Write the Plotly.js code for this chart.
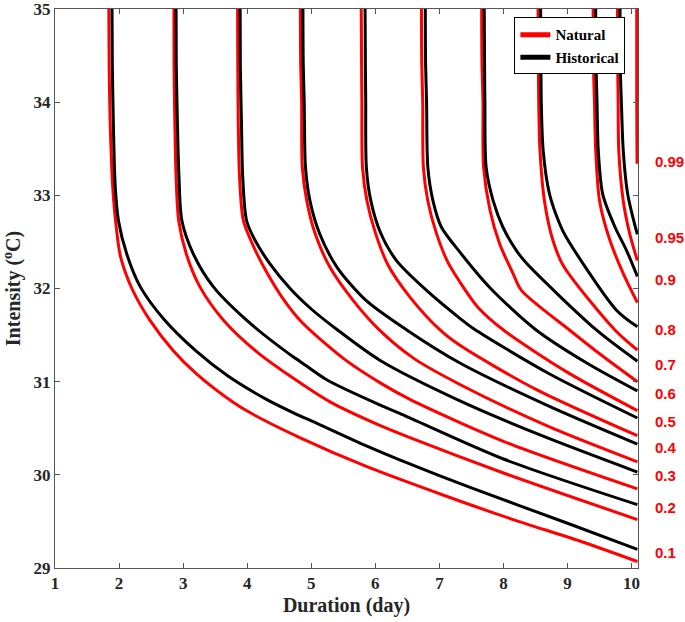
<!DOCTYPE html>
<html>
<head>
<meta charset="utf-8">
<script src="https://cdn.plot.ly/plotly-3.0.1.min.js"></script>
<style>html,body{margin:0;padding:0;background:#fff;}#chart{width:685px;height:622px;}</style>
</head>
<body>
<div id="chart"></div>
<script>
// probability levels (labels on the right)
const levels = ['0.1','0.2','0.3','0.4','0.5','0.6','0.7','0.8','0.9','0.95','0.99'];

// Natural (red) curves: duration (day) vs intensity (°C)
const nat01x = [1.84,1.845,1.86,1.885,1.91,1.95,2.02,2.2,2.48,2.85,3.2,3.78,4.09,4.82,5.86,7.11,8.15,9.19,10.09];
const nat01y = [35,34.4,33.8,33.3,33.0,32.7,32.35,32.0,31.66,31.33,31.09,30.78,30.65,30.40,30.09,29.77,29.52,29.29,29.07];
const nat02x = [2.856,2.858,2.87,2.89,2.93,3.05,3.26,3.63,4.15,4.67,5.3,6.07,6.5,8.0,10.09];
const nat02y = [35,34.4,33.8,33.2,32.73,32.37,32.02,31.66,31.32,31.06,30.78,30.53,30.41,30.02,29.52];
const nat03x = [3.85,3.853,3.86,3.88,3.94,4.1,4.3,4.55,4.85,5.5,6.07,6.54,8.0,10.09];
const nat03y = [35,34.4,33.8,33.2,32.73,32.45,32.18,31.9,31.64,31.25,30.99,30.81,30.36,29.85];
const nat04x = [4.83,4.835,4.85,4.86,4.93,5.06,5.29,5.65,6.07,6.6,7.32,8.7,10.09];
const nat04y = [35,34.4,34.0,33.3,32.94,32.59,32.23,31.875,31.55,31.25,30.97,30.52,30.14];
const nat05x = [5.78,5.785,5.79,5.80,5.87,6.0,6.2,6.55,7.01,7.32,8.5,10.09];
const nat05y = [35,34.4,34.0,33.3,32.94,32.6,32.25,31.9,31.555,31.39,30.92,30.42];
const nat06x = [6.72,6.725,6.74,6.75,6.82,6.95,7.12,7.32,7.6,8.0,9.0,10.09];
const nat06y = [35,34.4,34.0,33.3,32.94,32.6,32.3,32.07,31.8,31.555,31.1,30.69];
const nat07x = [7.66,7.665,7.68,7.69,7.79,7.94,8.15,8.28,9.03,9.5,10.09];
const nat07y = [35,34.4,34.01,33.30,32.84,32.48,32.16,31.98,31.555,31.30,31.00];
const nat08x = [8.54,8.545,8.55,8.57,8.64,8.77,8.93,9.74,10.09];
const nat08y = [35,34.4,34.01,33.48,32.94,32.52,32.25,31.555,31.34];
const nat09x = [9.40,9.405,9.42,9.44,9.50,9.66,9.87,10.09];
const nat09y = [35,34.4,34.01,33.48,32.94,32.52,32.16,31.85];
const nat10x = [9.78,9.783,9.79,9.80,9.87,9.97,10.09];
const nat10y = [35,34.4,34.01,33.48,32.94,32.59,32.30];
const nat11x = [10.08,10.08,10.085];
const nat11y = [35,34.0,33.34];

// Historical (black) curves
const his01x = [1.89,1.895,1.91,1.94,1.99,2.12,2.33,2.7,3.2,3.7,4.3,4.77,5.03,5.86,6.38,7.5,9.0,10.09];
const his01y = [35,34.4,33.8,33.1,32.73,32.37,32.02,31.67,31.33,31.06,30.81,30.65,30.57,30.31,30.16,29.86,29.48,29.20];
const his02x = [2.89,2.893,2.91,2.935,2.98,3.16,3.47,3.99,4.67,4.82,5.24,6.07,6.38,8.0,10.09];
const his02y = [35,34.4,33.8,33.2,32.73,32.37,32.02,31.66,31.29,31.22,31.02,30.75,30.66,30.17,29.68];
const his03x = [3.89,3.893,3.91,3.93,3.99,4.12,4.35,4.67,5.0,5.4,6.07,7.27,8.6,10.09];
const his03y = [35,34.4,33.8,33.2,32.73,32.52,32.27,32.0,31.78,31.56,31.23,30.81,30.42,30.03];
const his04x = [4.87,4.875,4.89,4.91,4.98,5.13,5.40,5.85,6.49,7.32,8.7,10.09];
const his04y = [35,34.4,34.0,33.3,32.94,32.59,32.23,31.875,31.555,31.20,30.74,30.33];
const his05x = [5.84,5.845,5.85,5.86,5.93,6.08,6.33,6.8,7.32,7.53,8.7,10.09];
const his05y = [35,34.4,34.0,33.3,32.94,32.6,32.3,31.98,31.68,31.57,31.09,30.61];
const his06x = [6.78,6.785,6.80,6.82,6.9,7.03,7.32,7.8,8.51,9.3,10.09];
const his06y = [35,34.4,34.0,33.3,32.94,32.66,32.39,32.0,31.555,31.2,30.90];
const his07x = [7.70,7.705,7.71,7.73,7.84,7.99,8.20,8.36,9.45,10.09];
const his07y = [35,34.4,34.01,33.30,32.94,32.66,32.41,32.27,31.555,31.22];
const his08x = [8.58,8.585,8.59,8.62,8.72,8.88,8.98,9.76,10.09];
const his08y = [35,34.4,34.01,33.48,33.01,32.69,32.55,31.77,31.59];
const his09x = [9.44,9.445,9.46,9.48,9.55,9.74,9.92,10.09];
const his09y = [35,34.4,34.01,33.48,33.01,32.66,32.41,32.13];
const his10x = [9.82,9.823,9.84,9.87,9.94,10.09];
const his10y = [35,34.4,34.01,33.48,33.01,32.58];

const xTicks = [1,2,3,4,5,6,7,8,9,10];
const yTicks = [29,30,31,32,33,34,35];

const natX = [nat01x,nat02x,nat03x,nat04x,nat05x,nat06x,nat07x,nat08x,nat09x,nat10x,nat11x];
const natY = [nat01y,nat02y,nat03y,nat04y,nat05y,nat06y,nat07y,nat08y,nat09y,nat10y,nat11y];
const hisX = [his01x,his02x,his03x,his04x,his05x,his06x,his07x,his08x,his09x,his10x];
const hisY = [his01y,his02y,his03y,his04y,his05y,his06y,his07y,his08y,his09y,his10y];

const RED = '#ff0000', BLACK = '#000000';
const traces = [];
natX.forEach((xs, i) => traces.push({
  x: xs, y: natY[i], type: 'scatter', mode: 'lines', name: 'Natural',
  line: {color: RED, width: 3, shape: 'spline', smoothing: 0.8},
  showlegend: false, hoverinfo: 'skip'
}));
hisX.forEach((xs, i) => traces.push({
  x: xs, y: hisY[i], type: 'scatter', mode: 'lines', name: 'Historical',
  line: {color: BLACK, width: 3, shape: 'spline', smoothing: 0.8},
  showlegend: false, hoverinfo: 'skip'
}));
// legend entries
traces.push({x:[null], y:[null], type:'scatter', mode:'lines', name:'Natural', line:{color:RED, width:5}, showlegend:true});
traces.push({x:[null], y:[null], type:'scatter', mode:'lines', name:'Historical', line:{color:BLACK, width:5}, showlegend:true});

// level labels at right, placed at the end of each curve
const annotations = levels.map((lab, i) => {
  const hasHis = i < hisY.length;
  const ys = hasHis ? hisY[i] : natY[i];
  return {
    text: lab, xref: 'paper', yref: 'y', x: 1.026, y: ys[ys.length-1],
    xanchor: 'left', yanchor: 'middle', yshift: hasHis ? -3 : 2, showarrow: false,
    font: {family: 'Liberation Sans, Arial, sans-serif', size: 15, color: RED, weight: 'bold'}
  };
});

const serif = 'Liberation Serif, Times New Roman, serif';
const tickFont = {family: serif, size: 17, color: '#262626', weight: 'bold'};
const layout = {
  width: 685, height: 622,
  margin: {l: 55, r: 46.5, t: 9, b: 53.5},
  paper_bgcolor: '#fff', plot_bgcolor: '#fff',
  showlegend: true,
  legend: {
    x: 0.788, y: 0.985, xanchor: 'left', yanchor: 'top',
    bgcolor: '#fff', bordercolor: '#000', borderwidth: 1,
    font: {family: serif, size: 15, color: '#000', weight: 'bold'},
    itemwidth: 30, tracegroupgap: 0
  },
  xaxis: {
    range: [1, 10.1], tickvals: xTicks, ticktext: xTicks.map(String),
    showgrid: false, zeroline: false, showline: true, mirror: 'ticks',
    linecolor: '#555', linewidth: 1, ticks: 'inside', ticklen: 5, tickcolor: '#555',
    tickfont: tickFont, ticklabeloverflow: 'allow',
    title: {text: 'Duration (day)', standoff: 5,
      font: {family: serif, size: 20, color: '#262626', weight: 'bold'}}
  },
  yaxis: {
    range: [29, 35], tickvals: yTicks, ticktext: yTicks.map(String),
    showgrid: false, zeroline: false, showline: true, mirror: 'ticks',
    linecolor: '#555', linewidth: 1, ticks: 'inside', ticklen: 5, tickcolor: '#555',
    tickfont: tickFont, ticklabeloverflow: 'allow',
    title: {text: 'Intensity (<sup>o</sup>C)', standoff: 7,
      font: {family: serif, size: 20, color: '#262626', weight: 'bold'}}
  },
  annotations: annotations
};

Plotly.newPlot('chart', traces, layout, {staticPlot: true, displayModeBar: false});
</script>
</body>
</html>
